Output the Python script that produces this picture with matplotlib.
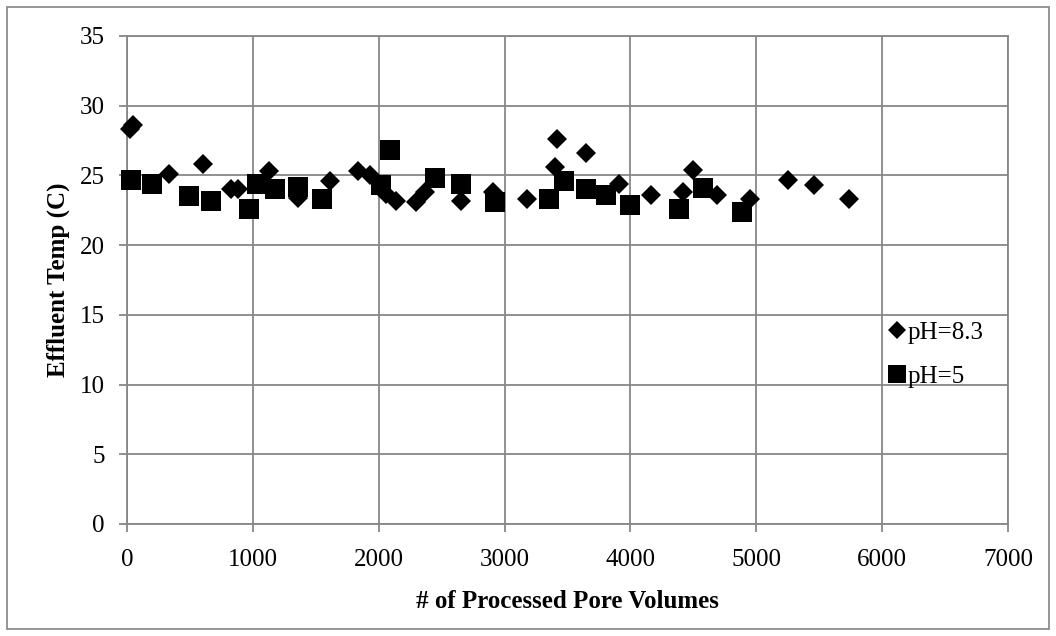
import matplotlib
matplotlib.use('Agg')
import matplotlib.pyplot as plt
from matplotlib.patches import Rectangle

plt.rcParams['font.family'] = ['Liberation Serif', 'DejaVu Serif']

# pH=8.3 series (diamonds)
ph83_x = [20, 45, 330, 605, 830, 880, 1125, 1355, 1612, 1835, 1930, 2060, 2135,
          2300, 2365, 2650, 2910, 3175, 3400, 3420, 3645, 3910, 4165, 4420,
          4500, 4685, 4950, 5250, 5455, 5740]
ph83_y = [28.3, 28.6, 25.1, 25.8, 24.0, 24.0, 25.3, 23.4, 24.6, 25.3, 25.0, 23.7, 23.2,
          23.1, 23.8, 23.2, 23.8, 23.3, 25.6, 27.6, 26.6, 24.4, 23.6, 23.8,
          25.4, 23.6, 23.3, 24.7, 24.3, 23.3]

# pH=5 series (squares)
ph5_x = [30, 200, 490, 665, 970, 1030, 1175, 1355, 1550, 2020, 2090, 2445, 2650,
         2920, 3350, 3475, 3645, 3805, 3995, 4385, 4575, 4885]
ph5_y = [24.7, 24.4, 23.5, 23.2, 22.6, 24.4, 24.0, 24.2, 23.3, 24.3, 26.8, 24.8, 24.4,
         23.1, 23.3, 24.6, 24.0, 23.6, 22.9, 22.6, 24.1, 22.4]

x_ticks = [0, 1000, 2000, 3000, 4000, 5000, 6000, 7000]
y_ticks = [0, 5, 10, 15, 20, 25, 30, 35]

W, H = 1056, 636
fig = plt.figure(figsize=(W / 100, H / 100), dpi=100)
ax = fig.add_axes([127 / W, 1 - 524 / H, (1008 - 127) / W, (524 - 36) / H])

grid_col = '#878787'
ax.plot(ph83_x, ph83_y, linestyle='none', marker='D', ms=10.4, color='black',
        markeredgewidth=0, label='pH=8.3', zorder=3, clip_on=False)
ax.plot(ph5_x, ph5_y, linestyle='none', marker='s', ms=14.4, color='black',
        markeredgewidth=0, label='pH=5', zorder=3, clip_on=False)

ax.set_xlim(0, 7000)
ax.set_ylim(0, 35)
ax.set_xticks(x_ticks)
ax.set_yticks(y_ticks)
ax.grid(True, color=grid_col, linewidth=1.3)
ax.set_axisbelow(True)
for s in ax.spines.values():
    s.set_color(grid_col)
    s.set_linewidth(1.3)
ax.tick_params(axis='both', labelsize=18, color=grid_col, width=1.3, length=6)
ax.tick_params(axis='y', pad=10)
ax.tick_params(axis='x', pad=12)

ax.set_xlabel('# of Processed Pore Volumes', fontsize=18, fontweight='bold', labelpad=14)
ax.set_ylabel('Effluent Temp (C)', fontsize=18, fontweight='bold', labelpad=7)

ax.legend(loc='center left', bbox_to_anchor=(0.865, 0.347), frameon=False,
          fontsize=18, markerscale=0.9, handlelength=0.6, handletextpad=0.15,
          labelspacing=0.87, borderpad=0, borderaxespad=0)

fig.patches.append(Rectangle((7 / W, 7 / H), 1 - 14 / W, 1 - 14 / H,
                             transform=fig.transFigure, fill=False,
                             edgecolor='#8c8c8c', linewidth=1.3))

fig.savefig('out.png', dpi=100)
